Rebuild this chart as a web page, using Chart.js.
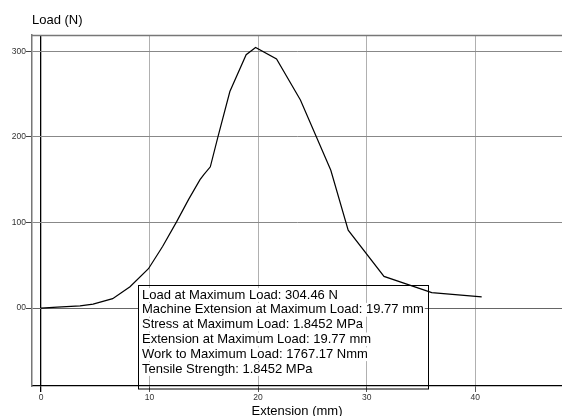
<!DOCTYPE html>
<html>
<head>
<meta charset="utf-8">
<script src="https://cdn.jsdelivr.net/npm/chart.js@4/dist/chart.umd.min.js"></script>
<style>
html,body{margin:0;padding:0;background:#fff;}
canvas{display:block;}
</style>
</head>
<body>
<canvas id="c" width="562" height="416"></canvas>
<script>
// ---- data ----
const extensionMm = [0, 1.5, 3.6, 4.8, 6.6, 8.2, 9.9, 11.2, 12.5, 13.6, 14.65, 15.0, 15.6, 16.3, 17.4, 18.9, 19.77, 21.7, 23.9, 26.7, 28.3, 31.6, 36.0, 40.6];
const loadN       = [0, 1.2, 2.7, 4.7, 11, 25, 46, 72, 101, 127, 150, 156, 165, 200, 253, 296, 304.46, 291, 243, 161, 91, 37, 18, 13];
const xTickValues = [0, 10, 20, 30, 40];
const yTickValues = [0, 100, 200, 300];
const yTickLabels = ['00', '100', '200', '300'];
const yAxisTitle = 'Load (N)';
const xAxisTitle = 'Extension (mm)';
const resultLines = [
  'Load at Maximum Load: 304.46 N',
  'Machine Extension at Maximum Load: 19.77 mm',
  'Stress at Maximum Load: 1.8452 MPa',
  'Extension at Maximum Load: 19.77 mm',
  'Work to Maximum Load: 1767.17 Nmm',
  'Tensile Strength: 1.8452 MPa'
];

const FONT = "'Liberation Sans', Arial, sans-serif";
const points = extensionMm.map((x, i) => ({x: x, y: loadN[i]}));

const decorPlugin = {
  id: 'decor',
  beforeDatasetsDraw(chart) {
    const {ctx, chartArea} = chart;
    ctx.save();
    ctx.strokeStyle = '#777';
    ctx.lineWidth = 1.5;
    ctx.beginPath();
    ctx.moveTo(chartArea.left, chartArea.top + 0.5);
    ctx.lineTo(chartArea.right, chartArea.top + 0.5);
    ctx.stroke();
    ctx.restore();
  },
  afterDraw(chart) {
    const {ctx, chartArea} = chart;
    ctx.save();
    // y axis title (horizontal, top-left)
    ctx.font = '13px ' + FONT;
    ctx.fillStyle = '#000';
    ctx.textBaseline = 'middle';
    ctx.textAlign = 'left';
    ctx.fillText(yAxisTitle, chartArea.left, 20);

    // results box
    const bx = chartArea.left + 106, by = chartArea.top + 250;
    const bw = 290, bh = 103.5;
    ctx.strokeStyle = '#000';
    ctx.lineWidth = 1;
    ctx.strokeRect(bx + 0.5, by + 0.5, bw, bh);
    const lh = 14.8;
    resultLines.forEach((t, i) => {
      const cy = by + 10 + i * lh;
      const w = ctx.measureText(t).width;
      ctx.fillStyle = '#fff';
      ctx.fillRect(bx + 1, cy - lh / 2 + 0.5, w + 4, lh - 1);
      ctx.fillStyle = '#000';
      ctx.fillText(t, bx + 4, cy);
    });
    ctx.restore();
  }
};

new Chart(document.getElementById('c'), {
  type: 'scatter',
  data: {
    datasets: [{
      data: points,
      showLine: true,
      borderColor: '#000',
      borderWidth: 1.2,
      pointRadius: 0,
      tension: 0,
      fill: false
    }]
  },
  options: {
    responsive: false,
    animation: false,
    devicePixelRatio: 1,
    layout: {padding: {top: 35, left: 0, right: 0, bottom: 0}},
    plugins: {legend: {display: false}, tooltip: {enabled: false}, title: {display: false}},
    scales: {
      x: {
        type: 'linear',
        min: -0.83,
        max: 48,
        afterBuildTicks: s => { s.ticks = xTickValues.map(v => ({value: v})); },
        afterFit: s => { s.height = 30; },
        ticks: {
          font: {family: FONT, size: 8.5},
          color: '#333',
          padding: 1,
          maxRotation: 0,
          callback: v => String(v)
        },
        grid: {
          color: c => (c.tick && c.tick.value === 0) ? '#000' : '#b0b0b0',
          lineWidth: c => (c.tick && c.tick.value === 0) ? 1.3 : 1,
          tickLength: 6,
          tickColor: c => (c.tick && c.tick.value === 0) ? '#000' : '#555'
        },
        border: {color: '#000', width: 1.3},
        title: {
          display: true,
          text: xAxisTitle,
          font: {family: FONT, size: 13},
          color: '#000',
          padding: {top: 0, bottom: -3}
        }
      },
      y: {
        type: 'linear',
        min: -91,
        max: 319,
        afterBuildTicks: s => { s.ticks = yTickValues.map(v => ({value: v})); },
        afterFit: s => { s.width = 32; },
        ticks: {
          font: {family: FONT, size: 8.5},
          color: '#333',
          padding: 0,
          callback: (v) => yTickLabels[yTickValues.indexOf(v)]
        },
        grid: {
          color: c => (c.tick && c.tick.value === 0) ? '#666' : '#888',
          lineWidth: 1,
          tickLength: 6,
          tickColor: '#444'
        },
        border: {color: '#777', width: 1.5}
      }
    }
  },
  plugins: [decorPlugin]
});
</script>
</body>
</html>
